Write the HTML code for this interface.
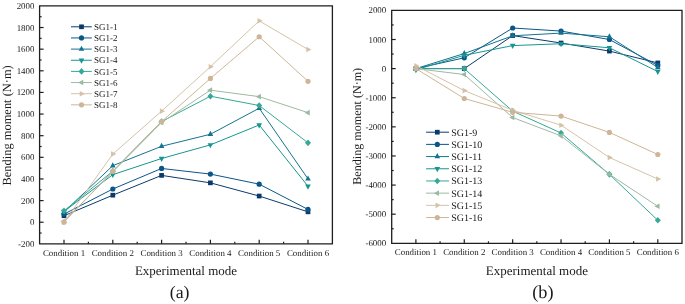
<!DOCTYPE html>
<html><head><meta charset="utf-8"><style>
html,body{margin:0;padding:0;background:#fff;}
body{width:685px;height:304px;overflow:hidden;}
svg{display:block;will-change:transform;}
text{font-family:"Liberation Serif", serif;fill:#1a1a1a;text-rendering:geometricPrecision;}
.tk{font-size:8.9px;}
.lg{font-size:9px;}
.lg2{font-size:10px;}
.ax{font-size:13px;}
.ax2{font-size:12px;}
.ab{font-size:17.5px;}
</style></head><body>
<svg width="685" height="304" viewBox="0 0 685 304">
<polyline points="64.00,215.73 112.80,195.18 161.60,175.39 210.40,182.85 259.20,196.04 308.00,211.83" fill="none" stroke="#0a3a6b" stroke-width="1"/>
<rect x="61.65" y="213.38" width="4.70" height="4.70" fill="#0a3a6b"/>
<rect x="110.45" y="192.83" width="4.70" height="4.70" fill="#0a3a6b"/>
<rect x="159.25" y="173.04" width="4.70" height="4.70" fill="#0a3a6b"/>
<rect x="208.05" y="180.50" width="4.70" height="4.70" fill="#0a3a6b"/>
<rect x="256.85" y="193.69" width="4.70" height="4.70" fill="#0a3a6b"/>
<rect x="305.65" y="209.48" width="4.70" height="4.70" fill="#0a3a6b"/>
<polyline points="64.00,214.11 112.80,189.01 161.60,168.46 210.40,174.09 259.20,184.15 308.00,209.46" fill="none" stroke="#0b5688" stroke-width="1"/>
<circle cx="64.00" cy="214.11" r="2.60" fill="#0b5688"/>
<circle cx="112.80" cy="189.01" r="2.60" fill="#0b5688"/>
<circle cx="161.60" cy="168.46" r="2.60" fill="#0b5688"/>
<circle cx="210.40" cy="174.09" r="2.60" fill="#0b5688"/>
<circle cx="259.20" cy="184.15" r="2.60" fill="#0b5688"/>
<circle cx="308.00" cy="209.46" r="2.60" fill="#0b5688"/>
<polyline points="64.00,211.94 112.80,165.65 161.60,146.29 210.40,134.28 259.20,108.22 308.00,178.85" fill="none" stroke="#137390" stroke-width="1"/>
<path d="M64.00 208.48L66.80 213.68L61.20 213.68Z" fill="#137390"/>
<path d="M112.80 162.18L115.60 167.38L110.00 167.38Z" fill="#137390"/>
<path d="M161.60 142.82L164.40 148.02L158.80 148.02Z" fill="#137390"/>
<path d="M210.40 130.82L213.20 136.02L207.60 136.02Z" fill="#137390"/>
<path d="M259.20 104.75L262.00 109.95L256.40 109.95Z" fill="#137390"/>
<path d="M308.00 175.38L310.80 180.58L305.20 180.58Z" fill="#137390"/>
<polyline points="64.00,211.40 112.80,174.63 161.60,158.51 210.40,144.88 259.20,124.98 308.00,186.20" fill="none" stroke="#179690" stroke-width="1"/>
<path d="M64.00 214.87L66.80 209.67L61.20 209.67Z" fill="#179690"/>
<path d="M112.80 178.09L115.60 172.89L110.00 172.89Z" fill="#179690"/>
<path d="M161.60 161.98L164.40 156.78L158.80 156.78Z" fill="#179690"/>
<path d="M210.40 148.35L213.20 143.15L207.60 143.15Z" fill="#179690"/>
<path d="M259.20 128.45L262.00 123.25L256.40 123.25Z" fill="#179690"/>
<path d="M308.00 189.67L310.80 184.47L305.20 184.47Z" fill="#179690"/>
<polyline points="64.00,210.86 112.80,171.17 161.60,121.52 210.40,96.21 259.20,105.51 308.00,142.83" fill="none" stroke="#35a898" stroke-width="1"/>
<path d="M64.00 207.56L67.00 210.86L64.00 214.16L61.00 210.86Z" fill="#35a898"/>
<path d="M112.80 167.87L115.80 171.17L112.80 174.47L109.80 171.17Z" fill="#35a898"/>
<path d="M161.60 118.22L164.60 121.52L161.60 124.82L158.60 121.52Z" fill="#35a898"/>
<path d="M210.40 92.91L213.40 96.21L210.40 99.51L207.40 96.21Z" fill="#35a898"/>
<path d="M259.20 102.21L262.20 105.51L259.20 108.81L256.20 105.51Z" fill="#35a898"/>
<path d="M308.00 139.53L311.00 142.83L308.00 146.13L305.00 142.83Z" fill="#35a898"/>
<polyline points="64.00,221.14 112.80,171.82 161.60,122.50 210.40,90.16 259.20,96.65 308.00,112.65" fill="none" stroke="#9cbaa2" stroke-width="1"/>
<path d="M60.53 221.14L65.73 218.34L65.73 223.94Z" fill="#9cbaa2"/>
<path d="M109.33 171.82L114.53 169.02L114.53 174.62Z" fill="#9cbaa2"/>
<path d="M158.13 122.50L163.33 119.70L163.33 125.30Z" fill="#9cbaa2"/>
<path d="M206.93 90.16L212.13 87.36L212.13 92.96Z" fill="#9cbaa2"/>
<path d="M255.73 96.65L260.93 93.85L260.93 99.45Z" fill="#9cbaa2"/>
<path d="M304.53 112.65L309.73 109.85L309.73 115.45Z" fill="#9cbaa2"/>
<polyline points="64.00,222.22 112.80,154.08 161.60,111.14 210.40,66.69 259.20,20.83 308.00,49.49" fill="none" stroke="#d4c3a8" stroke-width="1"/>
<path d="M67.47 222.22L62.27 219.42L62.27 225.02Z" fill="#d4c3a8"/>
<path d="M116.27 154.08L111.07 151.28L111.07 156.88Z" fill="#d4c3a8"/>
<path d="M165.07 111.14L159.87 108.34L159.87 113.94Z" fill="#d4c3a8"/>
<path d="M213.87 66.69L208.67 63.89L208.67 69.49Z" fill="#d4c3a8"/>
<path d="M262.67 20.83L257.47 18.03L257.47 23.63Z" fill="#d4c3a8"/>
<path d="M311.47 49.49L306.27 46.69L306.27 52.29Z" fill="#d4c3a8"/>
<polyline points="64.00,222.22 112.80,171.17 161.60,121.52 210.40,78.47 259.20,36.73 308.00,81.29" fill="none" stroke="#ceb597" stroke-width="1"/>
<circle cx="64.00" cy="222.22" r="2.60" fill="#ceb597"/>
<circle cx="112.80" cy="171.17" r="2.60" fill="#ceb597"/>
<circle cx="161.60" cy="121.52" r="2.60" fill="#ceb597"/>
<circle cx="210.40" cy="78.47" r="2.60" fill="#ceb597"/>
<circle cx="259.20" cy="36.73" r="2.60" fill="#ceb597"/>
<circle cx="308.00" cy="81.29" r="2.60" fill="#ceb597"/>
<path d="M39.60 5.90H332.40V243.85H39.60Z" fill="none" stroke="#1e1e1e" stroke-width="1.3"/>
<text x="34.40" y="246.85" text-anchor="end" class="tk">-200</text>
<line x1="39.60" y1="233.03" x2="41.60" y2="233.03" stroke="#1e1e1e" stroke-width="1.2"/>
<line x1="39.60" y1="222.22" x2="43.60" y2="222.22" stroke="#1e1e1e" stroke-width="1.2"/>
<text x="34.40" y="225.22" text-anchor="end" class="tk">0</text>
<line x1="39.60" y1="211.40" x2="41.60" y2="211.40" stroke="#1e1e1e" stroke-width="1.2"/>
<line x1="39.60" y1="200.59" x2="43.60" y2="200.59" stroke="#1e1e1e" stroke-width="1.2"/>
<text x="34.40" y="203.59" text-anchor="end" class="tk">200</text>
<line x1="39.60" y1="189.77" x2="41.60" y2="189.77" stroke="#1e1e1e" stroke-width="1.2"/>
<line x1="39.60" y1="178.95" x2="43.60" y2="178.95" stroke="#1e1e1e" stroke-width="1.2"/>
<text x="34.40" y="181.95" text-anchor="end" class="tk">400</text>
<line x1="39.60" y1="168.14" x2="41.60" y2="168.14" stroke="#1e1e1e" stroke-width="1.2"/>
<line x1="39.60" y1="157.32" x2="43.60" y2="157.32" stroke="#1e1e1e" stroke-width="1.2"/>
<text x="34.40" y="160.32" text-anchor="end" class="tk">600</text>
<line x1="39.60" y1="146.51" x2="41.60" y2="146.51" stroke="#1e1e1e" stroke-width="1.2"/>
<line x1="39.60" y1="135.69" x2="43.60" y2="135.69" stroke="#1e1e1e" stroke-width="1.2"/>
<text x="34.40" y="138.69" text-anchor="end" class="tk">800</text>
<line x1="39.60" y1="124.88" x2="41.60" y2="124.88" stroke="#1e1e1e" stroke-width="1.2"/>
<line x1="39.60" y1="114.06" x2="43.60" y2="114.06" stroke="#1e1e1e" stroke-width="1.2"/>
<text x="34.40" y="117.06" text-anchor="end" class="tk">1000</text>
<line x1="39.60" y1="103.24" x2="41.60" y2="103.24" stroke="#1e1e1e" stroke-width="1.2"/>
<line x1="39.60" y1="92.43" x2="43.60" y2="92.43" stroke="#1e1e1e" stroke-width="1.2"/>
<text x="34.40" y="95.43" text-anchor="end" class="tk">1200</text>
<line x1="39.60" y1="81.61" x2="41.60" y2="81.61" stroke="#1e1e1e" stroke-width="1.2"/>
<line x1="39.60" y1="70.80" x2="43.60" y2="70.80" stroke="#1e1e1e" stroke-width="1.2"/>
<text x="34.40" y="73.80" text-anchor="end" class="tk">1400</text>
<line x1="39.60" y1="59.98" x2="41.60" y2="59.98" stroke="#1e1e1e" stroke-width="1.2"/>
<line x1="39.60" y1="49.16" x2="43.60" y2="49.16" stroke="#1e1e1e" stroke-width="1.2"/>
<text x="34.40" y="52.16" text-anchor="end" class="tk">1600</text>
<line x1="39.60" y1="38.35" x2="41.60" y2="38.35" stroke="#1e1e1e" stroke-width="1.2"/>
<line x1="39.60" y1="27.53" x2="43.60" y2="27.53" stroke="#1e1e1e" stroke-width="1.2"/>
<text x="34.40" y="30.53" text-anchor="end" class="tk">1800</text>
<line x1="39.60" y1="16.72" x2="41.60" y2="16.72" stroke="#1e1e1e" stroke-width="1.2"/>
<text x="34.40" y="8.90" text-anchor="end" class="tk">2000</text>
<line x1="64.00" y1="243.85" x2="64.00" y2="239.85" stroke="#1e1e1e" stroke-width="1.2"/>
<text x="64.00" y="256.1" text-anchor="middle" class="tk">Condition 1</text>
<line x1="112.80" y1="243.85" x2="112.80" y2="239.85" stroke="#1e1e1e" stroke-width="1.2"/>
<text x="112.80" y="256.1" text-anchor="middle" class="tk">Condition 2</text>
<line x1="161.60" y1="243.85" x2="161.60" y2="239.85" stroke="#1e1e1e" stroke-width="1.2"/>
<text x="161.60" y="256.1" text-anchor="middle" class="tk">Condition 3</text>
<line x1="210.40" y1="243.85" x2="210.40" y2="239.85" stroke="#1e1e1e" stroke-width="1.2"/>
<text x="210.40" y="256.1" text-anchor="middle" class="tk">Condition 4</text>
<line x1="259.20" y1="243.85" x2="259.20" y2="239.85" stroke="#1e1e1e" stroke-width="1.2"/>
<text x="259.20" y="256.1" text-anchor="middle" class="tk">Condition 5</text>
<line x1="308.00" y1="243.85" x2="308.00" y2="239.85" stroke="#1e1e1e" stroke-width="1.2"/>
<text x="308.00" y="256.1" text-anchor="middle" class="tk">Condition 6</text>
<line x1="88.40" y1="243.85" x2="88.40" y2="241.85" stroke="#1e1e1e" stroke-width="1.2"/>
<line x1="137.20" y1="243.85" x2="137.20" y2="241.85" stroke="#1e1e1e" stroke-width="1.2"/>
<line x1="186.00" y1="243.85" x2="186.00" y2="241.85" stroke="#1e1e1e" stroke-width="1.2"/>
<line x1="234.80" y1="243.85" x2="234.80" y2="241.85" stroke="#1e1e1e" stroke-width="1.2"/>
<line x1="283.60" y1="243.85" x2="283.60" y2="241.85" stroke="#1e1e1e" stroke-width="1.2"/>
<line x1="71.0" y1="26.80" x2="91.8" y2="26.80" stroke="#0a3a6b" stroke-width="1"/>
<rect x="79.15" y="24.45" width="4.70" height="4.70" fill="#0a3a6b"/>
<text x="94.1" y="29.90" class="lg">SG1-1</text>
<line x1="71.0" y1="37.95" x2="91.8" y2="37.95" stroke="#0b5688" stroke-width="1"/>
<circle cx="81.50" cy="37.95" r="2.60" fill="#0b5688"/>
<text x="94.1" y="41.05" class="lg">SG1-2</text>
<line x1="71.0" y1="49.10" x2="91.8" y2="49.10" stroke="#137390" stroke-width="1"/>
<path d="M81.50 45.63L84.30 50.83L78.70 50.83Z" fill="#137390"/>
<text x="94.1" y="52.20" class="lg">SG1-3</text>
<line x1="71.0" y1="60.25" x2="91.8" y2="60.25" stroke="#179690" stroke-width="1"/>
<path d="M81.50 63.72L84.30 58.52L78.70 58.52Z" fill="#179690"/>
<text x="94.1" y="63.35" class="lg">SG1-4</text>
<line x1="71.0" y1="71.40" x2="91.8" y2="71.40" stroke="#35a898" stroke-width="1"/>
<path d="M81.50 68.10L84.50 71.40L81.50 74.70L78.50 71.40Z" fill="#35a898"/>
<text x="94.1" y="74.50" class="lg">SG1-5</text>
<line x1="71.0" y1="82.55" x2="91.8" y2="82.55" stroke="#9cbaa2" stroke-width="1"/>
<path d="M78.03 82.55L83.23 79.75L83.23 85.35Z" fill="#9cbaa2"/>
<text x="94.1" y="85.65" class="lg">SG1-6</text>
<line x1="71.0" y1="93.70" x2="91.8" y2="93.70" stroke="#d4c3a8" stroke-width="1"/>
<path d="M84.97 93.70L79.77 90.90L79.77 96.50Z" fill="#d4c3a8"/>
<text x="94.1" y="96.80" class="lg">SG1-7</text>
<line x1="71.0" y1="104.85" x2="91.8" y2="104.85" stroke="#ceb597" stroke-width="1"/>
<circle cx="81.50" cy="104.85" r="2.60" fill="#ceb597"/>
<text x="94.1" y="107.95" class="lg">SG1-8</text>
<text x="186.00" y="274.8" text-anchor="middle" class="ax">Experimental mode</text>
<text transform="translate(11.40,125.35) rotate(-90)" text-anchor="middle" style="font-size:12.45px">Bending moment (N·m)</text>
<text x="179.60" y="297.6" text-anchor="middle" class="ab" style="font-size:17.8px">(a)</text>
<polyline points="415.89,68.62 464.27,68.62 512.66,35.58 561.04,43.01 609.42,51.10 657.81,62.92" fill="none" stroke="#0a3a6b" stroke-width="1"/>
<rect x="413.54" y="66.28" width="4.70" height="4.70" fill="#0a3a6b"/>
<rect x="461.92" y="66.28" width="4.70" height="4.70" fill="#0a3a6b"/>
<rect x="510.31" y="33.23" width="4.70" height="4.70" fill="#0a3a6b"/>
<rect x="558.69" y="40.66" width="4.70" height="4.70" fill="#0a3a6b"/>
<rect x="607.07" y="48.75" width="4.70" height="4.70" fill="#0a3a6b"/>
<rect x="655.46" y="60.57" width="4.70" height="4.70" fill="#0a3a6b"/>
<polyline points="415.89,68.62 464.27,57.80 512.66,28.01 561.04,31.07 609.42,39.51 657.81,65.42" fill="none" stroke="#0b5688" stroke-width="1"/>
<circle cx="415.89" cy="68.62" r="2.60" fill="#0b5688"/>
<circle cx="464.27" cy="57.80" r="2.60" fill="#0b5688"/>
<circle cx="512.66" cy="28.01" r="2.60" fill="#0b5688"/>
<circle cx="561.04" cy="31.07" r="2.60" fill="#0b5688"/>
<circle cx="609.42" cy="39.51" r="2.60" fill="#0b5688"/>
<circle cx="657.81" cy="65.42" r="2.60" fill="#0b5688"/>
<polyline points="415.89,68.62 464.27,53.54 512.66,35.79 561.04,33.11 609.42,36.75 657.81,67.46" fill="none" stroke="#137390" stroke-width="1"/>
<path d="M415.89 65.16L418.69 70.36L413.09 70.36Z" fill="#137390"/>
<path d="M464.27 50.08L467.07 55.28L461.47 55.28Z" fill="#137390"/>
<path d="M512.66 32.32L515.46 37.52L509.86 37.52Z" fill="#137390"/>
<path d="M561.04 29.64L563.84 34.84L558.24 34.84Z" fill="#137390"/>
<path d="M609.42 33.28L612.22 38.48L606.62 38.48Z" fill="#137390"/>
<path d="M657.81 63.99L660.61 69.19L655.01 69.19Z" fill="#137390"/>
<polyline points="415.89,69.79 464.27,55.29 512.66,45.60 561.04,43.73 609.42,47.78 657.81,71.54" fill="none" stroke="#179690" stroke-width="1"/>
<path d="M415.89 73.26L418.69 68.06L413.09 68.06Z" fill="#179690"/>
<path d="M464.27 58.76L467.07 53.56L461.47 53.56Z" fill="#179690"/>
<path d="M512.66 49.06L515.46 43.86L509.86 43.86Z" fill="#179690"/>
<path d="M561.04 47.20L563.84 42.00L558.24 42.00Z" fill="#179690"/>
<path d="M609.42 51.25L612.22 46.05L606.62 46.05Z" fill="#179690"/>
<path d="M657.81 75.00L660.61 69.80L655.01 69.80Z" fill="#179690"/>
<polyline points="415.89,68.62 464.27,68.62 512.66,111.13 561.04,132.96 609.42,174.36 657.81,220.30" fill="none" stroke="#35a898" stroke-width="1"/>
<path d="M415.89 65.33L418.89 68.62L415.89 71.92L412.89 68.62Z" fill="#35a898"/>
<path d="M464.27 65.33L467.27 68.62L464.27 71.92L461.27 68.62Z" fill="#35a898"/>
<path d="M512.66 107.83L515.66 111.13L512.66 114.43L509.66 111.13Z" fill="#35a898"/>
<path d="M561.04 129.66L564.04 132.96L561.04 136.26L558.04 132.96Z" fill="#35a898"/>
<path d="M609.42 171.06L612.42 174.36L609.42 177.66L606.42 174.36Z" fill="#35a898"/>
<path d="M657.81 217.00L660.81 220.30L657.81 223.60L654.81 220.30Z" fill="#35a898"/>
<polyline points="415.89,68.62 464.27,74.51 512.66,117.53 561.04,135.87 609.42,174.36 657.81,206.30" fill="none" stroke="#9cbaa2" stroke-width="1"/>
<path d="M412.43 68.62L417.62 65.83L417.62 71.42Z" fill="#9cbaa2"/>
<path d="M460.81 74.51L466.01 71.71L466.01 77.31Z" fill="#9cbaa2"/>
<path d="M509.19 117.53L514.39 114.73L514.39 120.33Z" fill="#9cbaa2"/>
<path d="M557.57 135.87L562.77 133.07L562.77 138.67Z" fill="#9cbaa2"/>
<path d="M605.96 174.36L611.16 171.56L611.16 177.16Z" fill="#9cbaa2"/>
<path d="M654.34 206.30L659.54 203.50L659.54 209.10Z" fill="#9cbaa2"/>
<polyline points="415.89,65.71 464.27,90.60 512.66,110.26 561.04,125.19 609.42,157.51 657.81,178.99" fill="none" stroke="#d4c3a8" stroke-width="1"/>
<path d="M419.36 65.71L414.16 62.91L414.16 68.51Z" fill="#d4c3a8"/>
<path d="M467.74 90.60L462.54 87.80L462.54 93.40Z" fill="#d4c3a8"/>
<path d="M516.12 110.26L510.92 107.46L510.92 113.06Z" fill="#d4c3a8"/>
<path d="M564.51 125.19L559.31 122.39L559.31 127.99Z" fill="#d4c3a8"/>
<path d="M612.89 157.51L607.69 154.71L607.69 160.31Z" fill="#d4c3a8"/>
<path d="M661.28 178.99L656.08 176.19L656.08 181.79Z" fill="#d4c3a8"/>
<polyline points="415.89,68.62 464.27,98.49 512.66,112.29 561.04,116.08 609.42,132.38 657.81,154.51" fill="none" stroke="#ceb597" stroke-width="1"/>
<circle cx="415.89" cy="68.62" r="2.60" fill="#ceb597"/>
<circle cx="464.27" cy="98.49" r="2.60" fill="#ceb597"/>
<circle cx="512.66" cy="112.29" r="2.60" fill="#ceb597"/>
<circle cx="561.04" cy="116.08" r="2.60" fill="#ceb597"/>
<circle cx="609.42" cy="132.38" r="2.60" fill="#ceb597"/>
<circle cx="657.81" cy="154.51" r="2.60" fill="#ceb597"/>
<path d="M391.70 10.40H682.00V243.30H391.70Z" fill="none" stroke="#1e1e1e" stroke-width="1.3"/>
<text x="386.20" y="246.30" text-anchor="end" class="tk">-6000</text>
<line x1="391.70" y1="228.74" x2="393.70" y2="228.74" stroke="#1e1e1e" stroke-width="1.2"/>
<line x1="391.70" y1="214.19" x2="395.70" y2="214.19" stroke="#1e1e1e" stroke-width="1.2"/>
<text x="386.20" y="217.19" text-anchor="end" class="tk">-5000</text>
<line x1="391.70" y1="199.63" x2="393.70" y2="199.63" stroke="#1e1e1e" stroke-width="1.2"/>
<line x1="391.70" y1="185.08" x2="395.70" y2="185.08" stroke="#1e1e1e" stroke-width="1.2"/>
<text x="386.20" y="188.08" text-anchor="end" class="tk">-4000</text>
<line x1="391.70" y1="170.52" x2="393.70" y2="170.52" stroke="#1e1e1e" stroke-width="1.2"/>
<line x1="391.70" y1="155.96" x2="395.70" y2="155.96" stroke="#1e1e1e" stroke-width="1.2"/>
<text x="386.20" y="158.96" text-anchor="end" class="tk">-3000</text>
<line x1="391.70" y1="141.41" x2="393.70" y2="141.41" stroke="#1e1e1e" stroke-width="1.2"/>
<line x1="391.70" y1="126.85" x2="395.70" y2="126.85" stroke="#1e1e1e" stroke-width="1.2"/>
<text x="386.20" y="129.85" text-anchor="end" class="tk">-2000</text>
<line x1="391.70" y1="112.29" x2="393.70" y2="112.29" stroke="#1e1e1e" stroke-width="1.2"/>
<line x1="391.70" y1="97.74" x2="395.70" y2="97.74" stroke="#1e1e1e" stroke-width="1.2"/>
<text x="386.20" y="100.74" text-anchor="end" class="tk">-1000</text>
<line x1="391.70" y1="83.18" x2="393.70" y2="83.18" stroke="#1e1e1e" stroke-width="1.2"/>
<line x1="391.70" y1="68.62" x2="395.70" y2="68.62" stroke="#1e1e1e" stroke-width="1.2"/>
<text x="386.20" y="71.62" text-anchor="end" class="tk">0</text>
<line x1="391.70" y1="54.07" x2="393.70" y2="54.07" stroke="#1e1e1e" stroke-width="1.2"/>
<line x1="391.70" y1="39.51" x2="395.70" y2="39.51" stroke="#1e1e1e" stroke-width="1.2"/>
<text x="386.20" y="42.51" text-anchor="end" class="tk">1000</text>
<line x1="391.70" y1="24.96" x2="393.70" y2="24.96" stroke="#1e1e1e" stroke-width="1.2"/>
<text x="386.20" y="13.40" text-anchor="end" class="tk">2000</text>
<line x1="415.89" y1="243.30" x2="415.89" y2="239.30" stroke="#1e1e1e" stroke-width="1.2"/>
<text x="415.89" y="255.0" text-anchor="middle" class="tk">Condition 1</text>
<line x1="464.27" y1="243.30" x2="464.27" y2="239.30" stroke="#1e1e1e" stroke-width="1.2"/>
<text x="464.27" y="255.0" text-anchor="middle" class="tk">Condition 2</text>
<line x1="512.66" y1="243.30" x2="512.66" y2="239.30" stroke="#1e1e1e" stroke-width="1.2"/>
<text x="512.66" y="255.0" text-anchor="middle" class="tk">Condition 3</text>
<line x1="561.04" y1="243.30" x2="561.04" y2="239.30" stroke="#1e1e1e" stroke-width="1.2"/>
<text x="561.04" y="255.0" text-anchor="middle" class="tk">Condition 4</text>
<line x1="609.42" y1="243.30" x2="609.42" y2="239.30" stroke="#1e1e1e" stroke-width="1.2"/>
<text x="609.42" y="255.0" text-anchor="middle" class="tk">Condition 5</text>
<line x1="657.81" y1="243.30" x2="657.81" y2="239.30" stroke="#1e1e1e" stroke-width="1.2"/>
<text x="657.81" y="255.0" text-anchor="middle" class="tk">Condition 6</text>
<line x1="440.08" y1="243.30" x2="440.08" y2="241.30" stroke="#1e1e1e" stroke-width="1.2"/>
<line x1="488.47" y1="243.30" x2="488.47" y2="241.30" stroke="#1e1e1e" stroke-width="1.2"/>
<line x1="536.85" y1="243.30" x2="536.85" y2="241.30" stroke="#1e1e1e" stroke-width="1.2"/>
<line x1="585.23" y1="243.30" x2="585.23" y2="241.30" stroke="#1e1e1e" stroke-width="1.2"/>
<line x1="633.62" y1="243.30" x2="633.62" y2="241.30" stroke="#1e1e1e" stroke-width="1.2"/>
<line x1="426.1" y1="132.20" x2="449.0" y2="132.20" stroke="#0a3a6b" stroke-width="1"/>
<rect x="434.95" y="129.85" width="4.70" height="4.70" fill="#0a3a6b"/>
<text x="451.2" y="135.60" class="lg2">SG1-9</text>
<line x1="426.1" y1="144.39" x2="449.0" y2="144.39" stroke="#0b5688" stroke-width="1"/>
<circle cx="437.30" cy="144.39" r="2.60" fill="#0b5688"/>
<text x="451.2" y="147.79" class="lg2">SG1-10</text>
<line x1="426.1" y1="156.58" x2="449.0" y2="156.58" stroke="#137390" stroke-width="1"/>
<path d="M437.30 153.11L440.10 158.31L434.50 158.31Z" fill="#137390"/>
<text x="451.2" y="159.98" class="lg2">SG1-11</text>
<line x1="426.1" y1="168.77" x2="449.0" y2="168.77" stroke="#179690" stroke-width="1"/>
<path d="M437.30 172.24L440.10 167.04L434.50 167.04Z" fill="#179690"/>
<text x="451.2" y="172.17" class="lg2">SG1-12</text>
<line x1="426.1" y1="180.96" x2="449.0" y2="180.96" stroke="#35a898" stroke-width="1"/>
<path d="M437.30 177.66L440.30 180.96L437.30 184.26L434.30 180.96Z" fill="#35a898"/>
<text x="451.2" y="184.36" class="lg2">SG1-13</text>
<line x1="426.1" y1="193.15" x2="449.0" y2="193.15" stroke="#9cbaa2" stroke-width="1"/>
<path d="M433.83 193.15L439.03 190.35L439.03 195.95Z" fill="#9cbaa2"/>
<text x="451.2" y="196.55" class="lg2">SG1-14</text>
<line x1="426.1" y1="205.34" x2="449.0" y2="205.34" stroke="#d4c3a8" stroke-width="1"/>
<path d="M440.77 205.34L435.57 202.54L435.57 208.14Z" fill="#d4c3a8"/>
<text x="451.2" y="208.74" class="lg2">SG1-15</text>
<line x1="426.1" y1="217.53" x2="449.0" y2="217.53" stroke="#ceb597" stroke-width="1"/>
<circle cx="437.30" cy="217.53" r="2.60" fill="#ceb597"/>
<text x="451.2" y="220.93" class="lg2">SG1-16</text>
<text x="536.85" y="274.8" text-anchor="middle" class="ax">Experimental mode</text>
<text transform="translate(361.00,126.30) rotate(-90)" text-anchor="middle" style="font-size:12.1px">Bending moment (N·m)</text>
<text x="542.85" y="298.2" text-anchor="middle" class="ab" style="font-size:18.3px">(b)</text>
</svg>
</body></html>
